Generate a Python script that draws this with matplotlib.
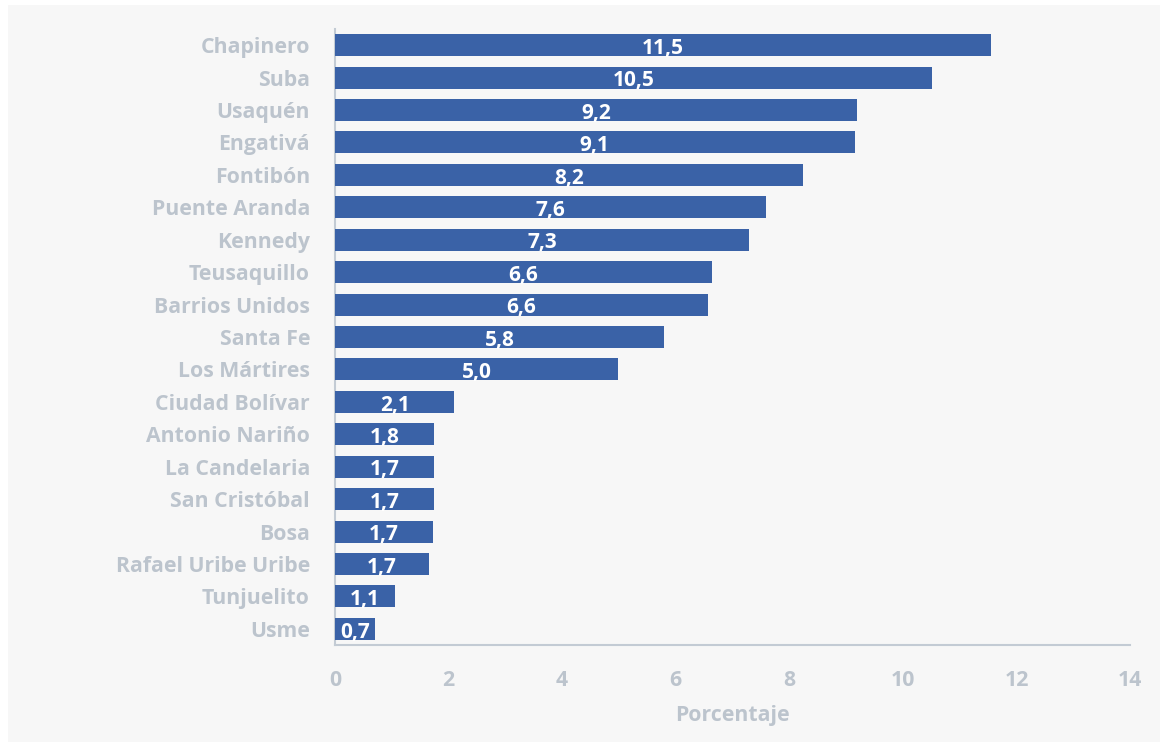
import matplotlib
matplotlib.use("Agg")
import matplotlib.pyplot as plt
from matplotlib.patches import Rectangle

categories = ["Chapinero", "Suba", "Usaquén", "Engativá", "Fontibón", "Puente Aranda",
              "Kennedy", "Teusaquillo", "Barrios Unidos", "Santa Fe", "Los Mártires",
              "Ciudad Bolívar", "Antonio Nariño", "La Candelaria", "San Cristóbal",
              "Bosa", "Rafael Uribe Uribe", "Tunjuelito", "Usme"]
values = [11.55, 10.52, 9.19, 9.15, 8.25, 7.59, 7.29, 6.64, 6.57, 5.79, 4.99,
          2.10, 1.75, 1.74, 1.74, 1.73, 1.66, 1.06, 0.70]
labels = ["11,5", "10,5", "9,2", "9,1", "8,2", "7,6", "7,3", "6,6", "6,6", "5,8", "5,0",
          "2,1", "1,8", "1,7", "1,7", "1,7", "1,7", "1,1", "0,7"]
xticks = [0, 2, 4, 6, 8, 10, 12, 14]

plt.rcParams['font.family'] = ['Open Sans', 'DejaVu Sans']

bar_color = "#3a62a7"
text_gray = "#bcc4cd"
axis_gray = "#c3cbd4"
panel = "#f7f7f7"

fig = plt.figure(figsize=(11.66, 7.48), dpi=100)
fig.patch.set_facecolor("white")
fig.patches.append(Rectangle((8/1166, 1 - 742/748), (1160-8)/1166, (742-5)/748,
                             transform=fig.transFigure, facecolor=panel, edgecolor="none", zorder=-10))

ax = fig.add_axes([335/1166, 1 - 645/748, (1130-335)/1166, (645-29)/748])
ax.set_facecolor("none")

y = list(range(len(categories)))
ax.barh(y, values, height=0.68, color=bar_color, zorder=3)
for yi, v, lab in zip(y, values, labels):
    ax.text(v / 2, yi + 0.1, lab, ha="center", va="center", color="white",
            fontsize=15, fontweight="bold", zorder=4)

ax.set_ylim(len(categories) - 0.5, -0.5)
ax.set_xlim(0, 14)
ax.set_yticks(y)
ax.set_yticklabels(categories)
ax.set_xticks(xticks)
ax.set_xticklabels([str(t) for t in xticks])
ax.tick_params(axis="both", length=0, colors=text_gray, labelsize=15.3)
ax.tick_params(axis="y", pad=18)
ax.tick_params(axis="x", pad=18)
for t in ax.get_xticklabels() + ax.get_yticklabels():
    t.set_fontweight("bold")
for s in ["top", "right"]:
    ax.spines[s].set_visible(False)
for s in ["left", "bottom"]:
    ax.spines[s].set_color(axis_gray)
    ax.spines[s].set_linewidth(1.5)
ax.set_xlabel("Porcentaje", color=text_gray, fontsize=15.3, fontweight="bold", labelpad=10)

fig.savefig("out.png", dpi=100)
